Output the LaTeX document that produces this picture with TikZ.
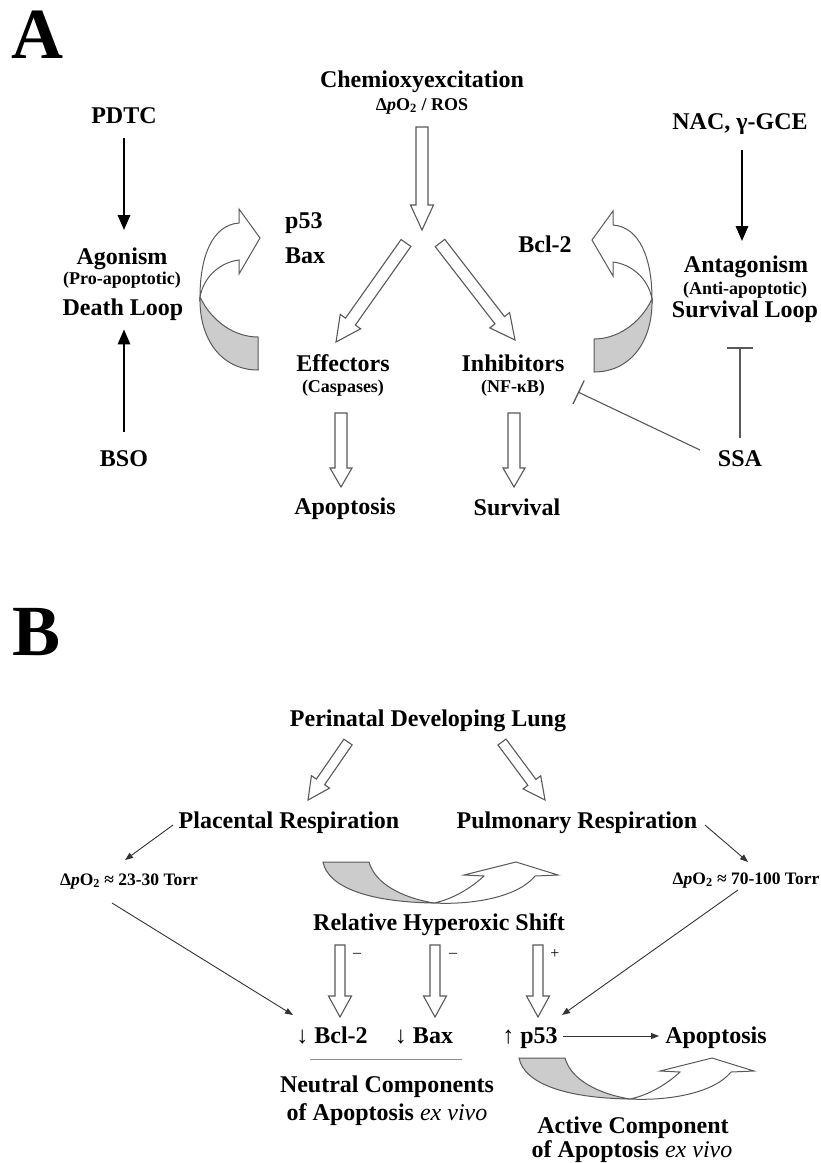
\documentclass[tikz,border=0pt]{standalone}
\usepackage{fontspec}
\setmainfont{Liberation Serif}
\usetikzlibrary{calc,arrows.meta}
\definecolor{edge}{gray}{0.35}
\definecolor{shade}{gray}{0.8}
\newcommand\hollowarr[5]{%
  \path ($(#2)!#5!(#1)$) coordinate (hb);
  \draw[hollow] ($(#1)!#3!90:(#2)$) -- ($(hb)!#3!90:(#2)$) -- ($(hb)!#4!90:(#2)$) -- (#2)
    -- ($(hb)!#4!-90:(#2)$) -- ($(hb)!#3!-90:(#2)$) -- ($(#1)!#3!-90:(#2)$) -- cycle;}
\tikzset{
  lbl/.style={anchor=base, inner sep=0pt, font=\bfseries\fontsize{24}{28}\selectfont},
  sub/.style={anchor=base, inner sep=0pt, font=\bfseries\fontsize{18}{22}\selectfont},
  subB/.style={anchor=base, inner sep=0pt, font=\bfseries\fontsize{17.5}{21}\selectfont},
  big/.style={anchor=base, inner sep=0pt, font=\bfseries\fontsize{72}{80}\selectfont},
  sign/.style={anchor=center, inner sep=0pt, font=\fontsize{16}{18}\selectfont},
  blackarrow/.style={line width=2.8pt, -{Triangle[width=12pt,length=15pt]}},
  thinarrow/.style={line width=0.9pt, draw=black!80, -{Triangle[width=6pt,length=8pt]}},
  inhib/.style={line width=1.1pt, draw=edge, -{Bar[width=26pt,line width=1.3pt]}},
  hollow/.style={draw=edge, line width=1.1pt, fill=white, line join=miter},
  ribbonw/.style={draw=edge, line width=1pt, fill=white},
  ribbong/.style={draw=edge, line width=1pt, fill=shade},
  rule/.style={draw=black!45, line width=0.9pt},
  loopA/.pic={
    \draw[ribbong] (0,0) .. controls (-1,43) and (22,73) .. (58,73) -- (58,40)
       .. controls (35,40) and (12,25) .. (0,0) -- cycle;
    \draw[ribbonw] (0,0) .. controls (0,-40) and (12,-72) .. (39,-74) -- (39,-88) -- (60,-59)
       -- (39,-23) -- (39,-37) .. controls (22,-35) and (4,-22) .. (0,0) -- cycle;
  },
  loopB/.pic={
    \draw[ribbong] (0,0) .. controls (5,25) and (45,40) .. (111,41)
       .. controls (80,36) and (52,22) .. (46,0) -- cycle;
    \draw[ribbonw] (111,41) .. controls (150,43) and (195,35) .. (212,14) -- (235,13) -- (193,0)
       -- (141,13) -- (161,14) .. controls (148,26) and (130,37) .. (111,41) -- cycle;
  },
}
\begin{document}
\begin{tikzpicture}[x=1pt,y=-1pt]
\useasboundingbox (0,0) rectangle (820,1163);
\fill[white] (0,0) rectangle (820,1163);

% ---------------- Panel A ----------------
\node[big] (lA) at (37,58) {A};
\node[lbl] (chem) at (422,87) {Chemioxyexcitation};
\node[sub] (ros) at (422,110) {Δ\textit{p}O\textsubscript{2} / ROS};
\node[lbl] (pdtc) at (124,123) {PDTC};
\node[lbl] (nac) at (740,129) {NAC, γ-GCE};
\node[lbl, anchor=base west] (p53) at (285,228) {p53};
\node[lbl, anchor=base west] (bax) at (285,263) {Bax};
\node[lbl] (bcl) at (545,252) {Bcl-2};
\node[lbl] (ago) at (122,264) {Agonism};
\node[sub] (pro) at (122,284) {(Pro-apoptotic)};
\node[lbl] (death) at (123,315) {Death Loop};
\node[lbl] (anta) at (746,272) {Antagonism};
\node[sub] (anti) at (745,294) {(Anti-apoptotic)};
\node[lbl] (surv) at (745,317) {Survival Loop};
\node[lbl] (eff) at (343,371) {Effectors};
\node[sub] (casp) at (343,392) {(Caspases)};
\node[lbl] (inh) at (513,371) {Inhibitors};
\node[sub] (nfkb) at (513,392) {(NF-κB)};
\node[lbl] (apoA) at (345,514) {Apoptosis};
\node[lbl] (survA) at (517,515) {Survival};
\node[lbl] (bso) at (124,466) {BSO};
\node[lbl] (ssa) at (740,466) {SSA};

\draw[blackarrow, shorten <=15pt, shorten >=17pt] (pdtc.south) -- (pdtc.south |- ago.north);
\draw[blackarrow, shorten <=18pt, shorten >=9pt] (bso.north) -- (bso.north |- death.south);
\draw[blackarrow, shorten <=16pt, shorten >=14pt] ([xshift=2pt]nac.south) -- ([xshift=2pt]nac.south |- anta.north);
\draw[inhib, shorten <=12pt, shorten >=25pt] (ssa.north) -- (ssa.north |- surv.south);
\coordinate (ssaL) at (700,450);
\coordinate (inhR) at (578,392);
\draw[inhib] (ssaL) -- (inhR);

\coordinate (a1s) at (422,127); \coordinate (a1t) at (422,230);
\coordinate (a2s) at (406,243); \coordinate (a2t) at (336,342);
\coordinate (a3s) at (440,243); \coordinate (a3t) at (515,340);
\coordinate (a4s) at (341,413); \coordinate (a4t) at (341,487);
\coordinate (a5s) at (514,413); \coordinate (a5t) at (514,487);
\hollowarr{a1s}{a1t}{6pt}{11.5pt}{25pt}
\hollowarr{a2s}{a2t}{6pt}{12.5pt}{25pt}
\hollowarr{a3s}{a3t}{6pt}{12.5pt}{25pt}
\hollowarr{a4s}{a4t}{6pt}{11pt}{19pt}
\hollowarr{a5s}{a5t}{6pt}{11pt}{19pt}

\pic at (200,297) {loopA};
\pic[xscale=-1] at (652,299) {loopA};

% ---------------- Panel B ----------------
\node[big] (lB) at (37,655) {B};
\node[lbl] (peri) at (428,726) {Perinatal Developing Lung};
\node[lbl] (plac) at (289,828) {Placental Respiration};
\node[lbl] (pulm) at (577,828) {Pulmonary Respiration};
\node[subB] (dlo) at (129,885) {Δ\textit{p}O\textsubscript{2} ≈ 23-30 Torr};
\node[subB] (dhi) at (746,884) {Δ\textit{p}O\textsubscript{2} ≈ 70-100 Torr};
\node[lbl] (rhs) at (439,930) {Relative Hyperoxic Shift};
\node[lbl] (bcl2) at (332,1043) {↓ Bcl-2};
\node[lbl] (baxB) at (424,1043) {↓ Bax};
\node[lbl] (p53B) at (530,1043) {↑ p53};
\node[lbl] (apoB) at (716,1043) {Apoptosis};
\node[lbl] (neu1) at (387,1092) {Neutral Components};
\node[lbl] (neu2) at (387,1120) {of Apoptosis {\mdseries\itshape ex vivo}};
\node[lbl] (act1) at (633,1133) {Active Component};
\node[lbl] (act2) at (632,1157) {of Apoptosis {\mdseries\itshape ex vivo}};
\node[sign] (m1) at (357,955) {–};
\node[sign] (m2) at (453,955) {–};
\node[sign] (pl) at (555,954) {+};

\coordinate (b1s) at (348,742); \coordinate (b1t) at (308,800);
\coordinate (b2s) at (502,742); \coordinate (b2t) at (545,800);
\coordinate (b3s) at (340,945); \coordinate (b3t) at (340,1017);
\coordinate (b4s) at (435,945); \coordinate (b4t) at (435,1017);
\coordinate (b5s) at (538,945); \coordinate (b5t) at (538,1017);
\hollowarr{b1s}{b1t}{5pt}{11pt}{22pt}
\hollowarr{b2s}{b2t}{5pt}{11pt}{22pt}
\hollowarr{b3s}{b3t}{5pt}{11.5pt}{21pt}
\hollowarr{b4s}{b4t}{5pt}{11.5pt}{21pt}
\hollowarr{b5s}{b5t}{5pt}{11.5pt}{21pt}

\coordinate (plW) at (173,825); \coordinate (dloN) at (125,860);
\coordinate (puE) at (705,825); \coordinate (dhiN) at (748,862);
\coordinate (dloS) at (112,903); \coordinate (bclT) at (293,1015);
\coordinate (dhiS) at (738,890); \coordinate (p53T) at (562,1015);
\draw[thinarrow] (plW) -- (dloN);
\draw[thinarrow] (puE) -- (dhiN);
\draw[thinarrow] (dloS) -- (bclT);
\draw[thinarrow] (dhiS) -- (p53T);
\coordinate (p53R) at (563,1036); \coordinate (apoL) at (659,1036);
\draw[thinarrow] (p53R) -- (apoL);
\draw[rule] (310,1059) -- (462,1059);

\pic at (323,862) {loopB};
\pic at (519,1058) {loopB};
\end{tikzpicture}
\end{document}
